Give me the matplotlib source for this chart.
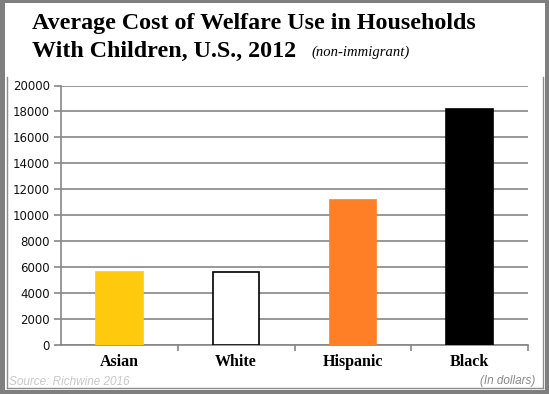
import matplotlib.pyplot as plt
from matplotlib.patches import Rectangle
from matplotlib.lines import Line2D

groups = ["Asian", "White", "Hispanic", "Black"]
costs = [5600, 5600, 11200, 18200]
bar_colors = ["#FFC90E", "#FFFFFF", "#FF7F27", "#000000"]
edge_colors = ["#FFC90E", "#000000", "#FF7F27", "#000000"]
y_ticks = list(range(0, 20001, 2000))

W, H = 549, 394
fig = plt.figure(figsize=(W / 100, H / 100), dpi=100)
fig.patch.set_facecolor("white")

# outer gray frame (left, top, right, bottom bands) and inner thin box
for x0, y0, w, h in [(0, 0, 5, H), (0, 0, W, 3), (545, 0, 4, H), (0, 390, W, 4)]:
    fig.patches.append(Rectangle((x0 / W, 1 - (y0 + h) / H), w / W, h / H,
                                 transform=fig.transFigure, facecolor="#7f7f7f",
                                 edgecolor="none", zorder=-5))
for xs, ys in [((7, 7), (77, 388)), ((543, 543), (77, 388)), ((7, 543), (388, 388))]:
    fig.lines.append(Line2D([x / W for x in xs], [1 - y / H for y in ys],
                            transform=fig.transFigure, color="#8c8c8c", linewidth=1, zorder=-4))

ax = fig.add_axes([61 / W, 1 - 345 / H, (528 - 61) / W, (345 - 85.5) / H])
ax.set_facecolor("none")

x = list(range(len(groups)))
ax.bar(x, costs, width=0.4, color=bar_colors, edgecolor=edge_colors, linewidth=1.2, zorder=3)

ax.set_xlim(-0.5, 3.5)
ax.set_ylim(0, 20000)
ax.set_yticks(y_ticks)
ax.set_yticklabels([str(v) for v in y_ticks], fontsize=8.5, family="DejaVu Sans", color="#111111")
ax.yaxis.grid(True, color="#868686", linewidth=1.2, zorder=0)
ax.set_axisbelow(True)
ax.tick_params(axis="y", length=5, width=1.2, color="#868686", pad=3)

ax.set_xticks([0.5, 1.5, 2.5, 3.5])
ax.set_xticklabels([])
ax.tick_params(axis="x", length=4, width=1.2, color="#868686", direction="out")
for i, g in enumerate(groups):
    ax.text(i, -1300, g, ha="center", va="center", fontsize=11.5, fontweight="bold",
            family="Liberation Serif")

for side in ["top", "right"]:
    ax.spines[side].set_visible(False)
for side in ["left", "bottom"]:
    ax.spines[side].set_color("#868686")
    ax.spines[side].set_linewidth(1.2)

fig.text(32 / W, 1 - 23 / H, "Average Cost of Welfare Use in Households",
         fontsize=17.3, fontweight="bold", family="Liberation Serif", va="center", ha="left")
fig.text(32 / W, 1 - 51 / H, "With Children, U.S., 2012",
         fontsize=17.3, fontweight="bold", family="Liberation Serif", va="center", ha="left")
fig.text(311 / W, 1 - 52 / H, "(non-immigrant)", fontsize=10.5, style="italic",
         family="Liberation Serif", va="center", ha="left")

fig.text(9 / W, 1 - 382 / H, "Source: Richwine 2016", fontsize=8.5, style="italic",
         color="#c8c8c8", family="Liberation Sans", va="center", ha="left")
fig.text(535 / W, 1 - 381 / H, "(In dollars)", fontsize=8.5, style="italic",
         color="#8a8a8a", family="Liberation Sans", va="center", ha="right")

fig.savefig("out.png", dpi=100)
